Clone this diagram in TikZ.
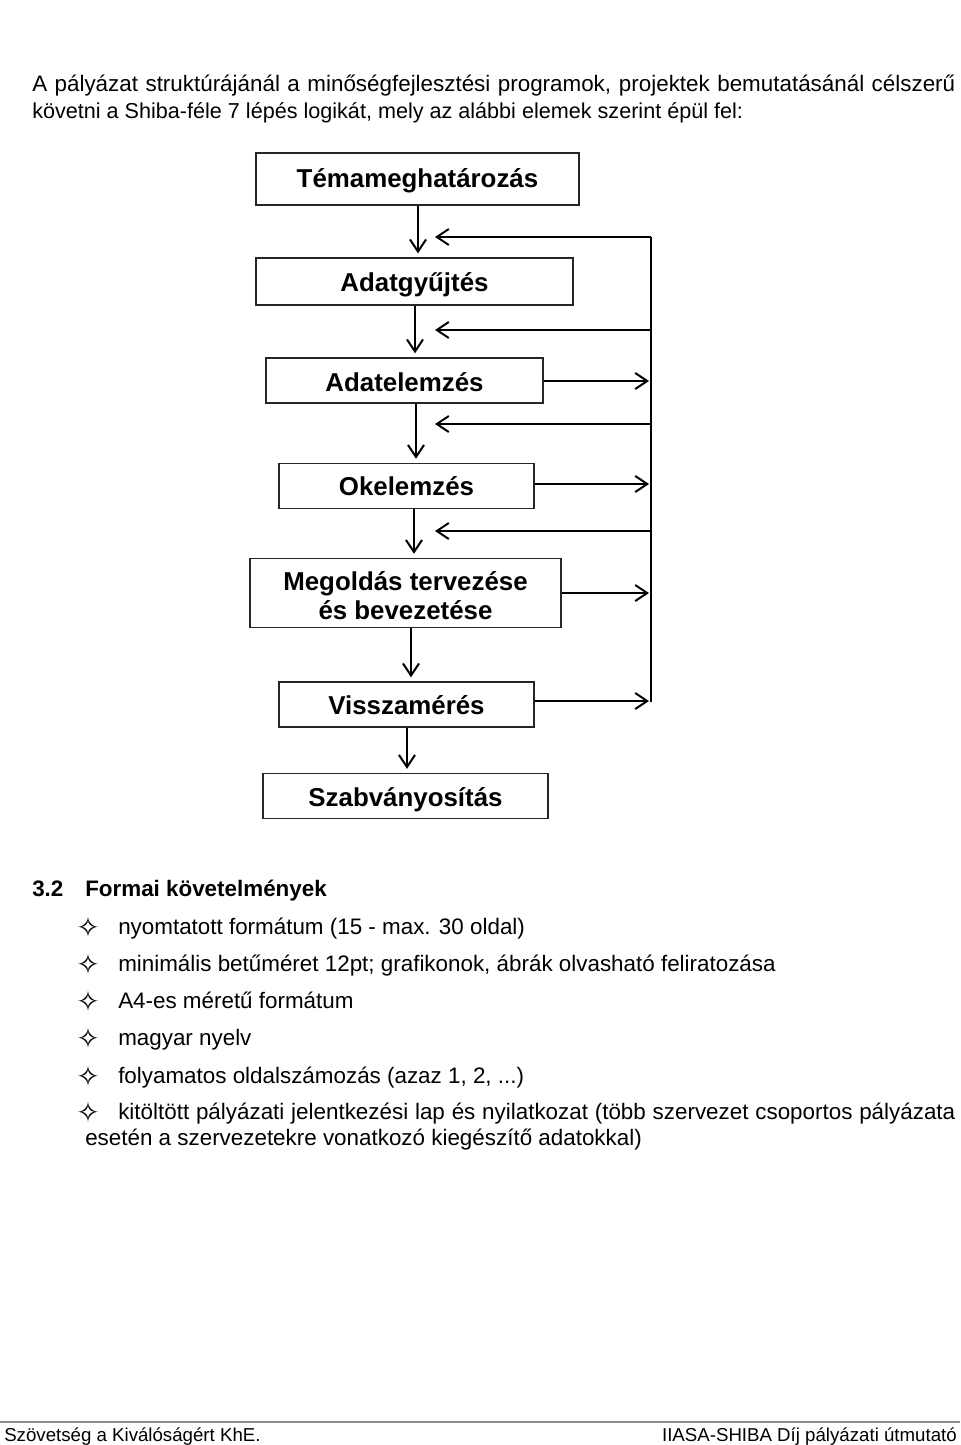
\documentclass[tikz,border=0pt]{standalone}
\usepackage{fontspec}
\setmainfont{Liberation Sans}
\newfontfamily\symfont{DejaVu Sans}
\usetikzlibrary{arrows.meta}
\begin{document}
\begin{tikzpicture}[x=0.75pt,y=-0.75pt,
  box/.style={draw=black!85, line width=1.1pt, inner sep=0pt,
    font=\fontsize{19.4}{21.75}\selectfont\bfseries, align=center},
  arr/.style={line width=1.5pt, -{Straight Barb[length=9pt,width=12pt]}},
  varr/.style={arr, shorten >=3pt},
  fb/.style={line width=1.5pt},
  txt/.style={anchor=base west, inner sep=0pt, font=\fontsize{16.8}{20}\selectfont},
  bul/.style={anchor=center, inner sep=0pt, font=\symfont\fontsize{21}{22}\selectfont},
  foot/.style={inner sep=0pt, font=\fontsize{14}{16}\selectfont},
]
\useasboundingbox (0,0) rectangle (960,1445);

% header text
\node[txt] (h1) at (32,91) {\makebox[692.25pt][s]{A pályázat struktúrájánál a minőségfejlesztési programok, projektek bemutatásánál célszerű}};
\node[txt, font=\fontsize{16.2}{20}\selectfont] (h2) at (32,118) {követni a Shiba-féle 7 lépés logikát, mely az alábbi elemek szerint épül fel:};

% boxes
\node[box, minimum width=242.25pt, minimum height=39pt, text height=18.25pt, text depth=5.75pt] (b1) at (417.5,179) {Témameghatározás};
\node[box, minimum width=237.75pt, minimum height=35.25pt, text height=19.7pt, text depth=4.3pt] (b2) at (414.5,281.5) {Adatgyűjtés};
\node[box, minimum width=207.75pt, minimum height=33.75pt, text height=20.25pt, text depth=3.75pt] (b3) at (404.5,380.5) {Adatelemzés};
\node[box, minimum width=191.25pt, minimum height=33.75pt, text height=18.75pt, text depth=5.25pt] (b4) at (406.5,486) {Okelemzés};
\node[box, minimum width=233.25pt, minimum height=51.75pt, text height=39pt, text depth=0pt] (b5) at (405.5,593) {Megoldás tervezése\\és bevezetése};
\node[box, minimum width=191.25pt, minimum height=33.75pt, text height=19.5pt, text depth=4.5pt] (b6) at (406.5,704.5) {Visszamérés};
\node[box, minimum width=213.75pt, minimum height=33.75pt, text height=19.75pt, text depth=4.25pt] (b7) at (405.5,796) {Szabványosítás};

% x positions of vertical arrows
\coordinate (x1) at (418,0);
\coordinate (x2) at (415,0);
\coordinate (x3) at (416,0);
\coordinate (x4) at (414,0);
\coordinate (x5) at (411,0);
\coordinate (x6) at (407,0);

\draw[varr] (b1.south -| x1) -- (b2.north -| x1);
\draw[varr] (b2.south -| x2) -- (b3.north -| x2);
\draw[varr] (b3.south -| x3) -- (b4.north -| x3);
\draw[varr] (b4.south -| x4) -- (b5.north -| x4);
\draw[varr] (b5.south -| x5) -- (b6.north -| x5);
\draw[varr] (b6.south -| x6) -- (b7.north -| x6);

% feedback line
\coordinate (top) at (651,237);
\coordinate (bot) at (651,702);
\draw[fb] (top) -- (bot);

% left arrows (feedback into the flow)
\coordinate (i1) at (435,237);
\coordinate (i2) at (435,330);
\coordinate (i3) at (435,424);
\coordinate (i4) at (435,531);
\draw[arr] (i1 -| top) -- (i1);
\draw[arr] (i2 -| top) -- (i2);
\draw[arr] (i3 -| top) -- (i3);
\draw[arr] (i4 -| top) -- (i4);

% right arrows (out of boxes)
\coordinate (o3) at (649,381);
\coordinate (o4) at (649,484);
\coordinate (o5) at (649,593);
\coordinate (o6) at (649,701);
\draw[arr] (b3.east |- o3) -- (o3);
\draw[arr] (b4.east |- o4) -- (o4);
\draw[arr] (b5.east |- o5) -- (o5);
\draw[arr] (b6.east |- o6) -- (o6);

% section heading
\node[txt, font=\fontsize{16.8}{20}\selectfont\bfseries] (s1) at (32,896) {3.2};
\node[txt, font=\fontsize{16.8}{20}\selectfont\bfseries] (s2) at (85,896) {Formai követelmények};

% list
\node[bul] (u1) at (88,927) {✧};
\node[txt] (t1) at (118,934) {nyomtatott formátum (15 - max. 30 oldal)};
\node[bul] (u2) at (88,964) {✧};
\node[txt] (t2) at (118,971) {minimális betűméret 12pt; grafikonok, ábrák olvasható feliratozása};
\node[bul] (u3) at (88,1001) {✧};
\node[txt] (t3) at (118,1008) {A4-es méretű formátum};
\node[bul] (u4) at (88,1038) {✧};
\node[txt] (t4) at (118,1045) {magyar nyelv};
\node[bul] (u5) at (88,1076) {✧};
\node[txt] (t5) at (118,1083) {folyamatos oldalszámozás (azaz 1, 2, ...)};
\node[bul] (u6) at (88,1112) {✧};
\node[txt] (t6) at (118,1119) {\makebox[627.75pt][s]{kitöltött pályázati jelentkezési lap és nyilatkozat (több szervezet csoportos pályázata}};
\node[txt] (t7) at (85,1145) {esetén a szervezetekre vonatkozó kiegészítő adatokkal)};

% footer
\coordinate (fl) at (0,1422);
\coordinate (fr) at (960,1422);
\draw[line width=1.3pt, black!45] (fl) -- (fr);
\node[foot, anchor=base west] (f1) at (4,1441) {Szövetség a Kiválóságért KhE.};
\node[foot, anchor=base east] (f2) at (957,1441) {IIASA-SHIBA Díj pályázati útmutató};
\end{tikzpicture}
\end{document}
